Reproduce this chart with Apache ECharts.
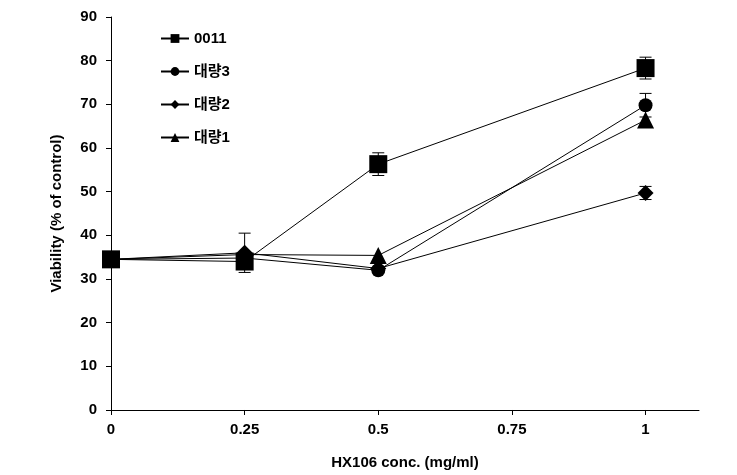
<!DOCTYPE html>
<html><head><meta charset="utf-8">
<script src="https://cdn.jsdelivr.net/npm/echarts@6/dist/echarts.min.js"></script>
<style>html,body{margin:0;padding:0;background:#fff}#c{width:737px;height:475px}</style>
</head><body><div id="c"></div>
<script>
const xValues = [0, 0.25, 0.5, 1];
const xTicks = [0, 0.25, 0.5, 0.75, 1];
const seriesNames = ['0011', '대량3', '대량2', '대량1'];
const s0011 = [34.5, 34.0, 56.3, 78.3];
const s0011Err = [0, 1.0, 2.6, 2.5];
const s3 = [34.5, 34.8, 32.0, 69.8];
const s3Err = [0, 0, 0.4, 2.7];
const s2 = [34.5, 36.0, 32.4, 49.7];
const s2Err = [0, 4.5, 0, 1.5];
const s1 = [34.5, 35.6, 35.4, 66.4];
const s1Err = [0, 0, 0, 0];

const FONT = '"Liberation Sans", Arial, "Noto Sans CJK KR", sans-serif';
const chart = echarts.init(document.getElementById('c'));

const vals = [s0011, s3, s2, s1];
const errs = [s0011Err, s3Err, s2Err, s1Err];
const symbols = ['rect', 'circle', 'diamond', 'triangle'];
const sizes = [18, 14, 16, 17];

const errData = [];
vals.forEach((v, si) => v.forEach((y, i) => { if (errs[si][i] > 0) errData.push([xValues[i], y, errs[si][i]]); }));

const series = vals.map((v, si) => ({
  name: seriesNames[si], type: 'line', data: v.map((y, i) => [xValues[i], y]),
  symbol: symbols[si], symbolSize: sizes[si], showAllSymbol: true,
  lineStyle: { color: '#000', width: 1 }, itemStyle: { color: '#000' },
  emphasis: { disabled: true }, z: 3 + si, animation: false
}));
series.push({
  type: 'custom', data: errData, z: 2, animation: false, silent: true,
  renderItem: function (params, api) {
    const x = api.value(0), y = api.value(1), e = api.value(2);
    const top = api.coord([x, y + e]), bot = api.coord([x, y - e]);
    const w = 6;
    return { type: 'group', children: [
      { type: 'line', shape: { x1: top[0], y1: top[1], x2: bot[0], y2: bot[1] }, style: { stroke: '#000', lineWidth: 1 } },
      { type: 'line', shape: { x1: top[0] - w, y1: top[1], x2: top[0] + w, y2: top[1] }, style: { stroke: '#000', lineWidth: 1 } },
      { type: 'line', shape: { x1: bot[0] - w, y1: bot[1], x2: bot[0] + w, y2: bot[1] }, style: { stroke: '#000', lineWidth: 1 } }
    ]};
  }
});

chart.setOption({
  animation: false,
  grid: { left: 111, right: 38, top: 17, bottom: 65, containLabel: false },
  legend: {
    data: seriesNames, orient: 'vertical', left: 155, top: 26, itemGap: 18,
    itemWidth: 28, itemHeight: 11, itemTextGap: 4, selectedMode: false,
    textStyle: { fontFamily: FONT, fontWeight: 'bold', fontSize: 15, color: '#000', padding: [7, 0, 0, 0] }
  },
  xAxis: {
    type: 'value', min: 0, max: 1.1, interval: 0.25,
    name: 'HX106 conc. (mg/ml)', nameLocation: 'middle', nameGap: 45,
    nameTextStyle: { fontFamily: FONT, fontWeight: 'bold', fontSize: 15, color: '#000' },
    axisLine: { lineStyle: { color: '#000', width: 1 } },
    axisTick: { show: true, length: 5, lineStyle: { color: '#000' }, customValues: xTicks },
    axisLabel: { fontFamily: FONT, fontWeight: 'bold', fontSize: 15, color: '#000', margin: 12, customValues: xTicks,
      formatter: v => String(v) },
    splitLine: { show: false }
  },
  yAxis: {
    type: 'value', min: 0, max: 90, interval: 10,
    name: 'Viability (% of control)', nameLocation: 'middle', nameGap: 47,
    nameTextStyle: { fontFamily: FONT, fontWeight: 'bold', fontSize: 15, color: '#000' },
    axisLine: { show: true, lineStyle: { color: '#000', width: 1 } },
    axisTick: { show: true, length: 5, lineStyle: { color: '#000' } },
    axisLabel: { fontFamily: FONT, fontWeight: 'bold', fontSize: 15, color: '#000', margin: 14 },
    splitLine: { show: false }
  },
  series: series
});
</script></body></html>
